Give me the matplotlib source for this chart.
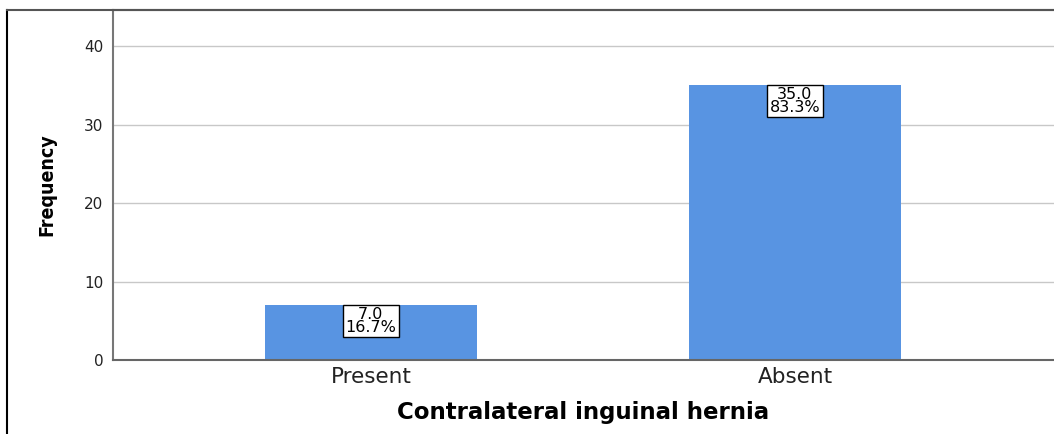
import matplotlib.pyplot as plt
from matplotlib.lines import Line2D

categories = ['Present', 'Absent']
counts = [7.0, 35.0]
percents = [16.7, 83.3]

fig = plt.figure(figsize=(10.54, 4.34), dpi=100)
ax = fig.add_axes([113 / 1054, 74 / 434, 1 - 113 / 1054, 350 / 434])

x = range(len(categories))
ax.bar(x, counts, width=0.5, color='#5894e2', zorder=2)

for xi, c, p in zip(x, counts, percents):
    ax.annotate('%.1f\n%.1f%%' % (c, p), (xi, c), xytext=(0, -1.5),
                textcoords='offset points', ha='center', va='top',
                fontsize=11.5, family='DejaVu Sans', linespacing=0.78,
                bbox=dict(boxstyle='square,pad=0.15', fc='white', ec='black', lw=1),
                zorder=3)

ax.set_xlim(-0.608, 1.611)
ax.set_ylim(0, 44.6)
ax.set_yticks([0, 10, 20, 30, 40])
ax.set_xticks(list(x))
ax.set_xticklabels(categories, fontsize=15.5, family='DejaVu Sans')
for lab in ax.get_yticklabels():
    lab.set_fontsize(11)
    lab.set_family('DejaVu Sans')
ax.yaxis.grid(True, color='#c8c8c8', lw=1, zorder=0)
ax.set_axisbelow(True)
ax.tick_params(axis='both', length=0, colors='#222222')
ax.tick_params(axis='y', pad=7)
ax.tick_params(axis='x', pad=5)

ax.spines['right'].set_visible(False)
ax.spines['top'].set_color('#555555')
ax.spines['top'].set_linewidth(1.5)
ax.spines['left'].set_color('#777777')
ax.spines['left'].set_linewidth(1.5)
ax.spines['bottom'].set_color('#666666')
ax.spines['bottom'].set_linewidth(1.5)

ax.set_ylabel('Frequency', fontsize=14, fontweight='bold', fontstretch='condensed',
              family='DejaVu Sans', labelpad=20)
ax.set_xlabel('Contralateral inguinal hernia', fontsize=16.5, fontweight='bold',
              family='DejaVu Sans', labelpad=10)

# outer frame on left and top
fig.add_artist(Line2D([7 / 1054, 7 / 1054], [0, 424 / 434], color='black', lw=1.5))
fig.add_artist(Line2D([7 / 1054, 1], [424 / 434, 424 / 434], color='#555555', lw=1.5))

fig.savefig('out.png', dpi=100)
